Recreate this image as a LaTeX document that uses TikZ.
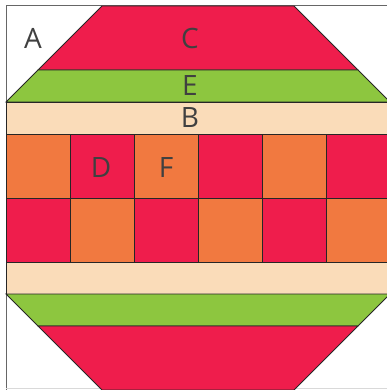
\documentclass[tikz,border=0pt]{standalone}
\usepackage{fontspec}
\setmainfont{Open Sans}
\definecolor{qred}{HTML}{EF1D4C}
\definecolor{qgreen}{HTML}{8DC63F}
\definecolor{qbeige}{HTML}{FADCB9}
\definecolor{qorange}{HTML}{F17940}
\definecolor{qtext}{HTML}{404040}
\begin{document}
\begin{tikzpicture}[x=1pt,y=-1pt,
  patch/.style={draw=black!85,line width=0.9pt,line join=miter},
  lbl/.style={text=qtext,font=\fontsize{28}{28}\selectfont,inner sep=0pt}]
\useasboundingbox (0,0) rectangle (387,390);
% frame
\draw[black!60,line width=1pt] (6,390) -- (6,6) -- (390,6);
\draw[black!15,line width=1pt] (6,388) -- (390,388);
% top
\filldraw[patch,fill=qred] (102,6) -- (294,6) -- (358,70) -- (38,70) -- cycle;
\filldraw[patch,fill=qgreen] (38,70) -- (358,70) -- (390,102) -- (6,102) -- cycle;
\filldraw[patch,fill=qbeige] (6,102) rectangle (390,134);
% checker rows
\foreach \i in {0,...,5}{
  \pgfmathsetmacro{\xa}{6+64*\i}
  \pgfmathsetmacro{\xb}{70+64*\i}
  \ifodd\i
    \filldraw[patch,fill=qred] (\xa,134) rectangle (\xb,198);
    \filldraw[patch,fill=qorange] (\xa,198) rectangle (\xb,262);
  \else
    \filldraw[patch,fill=qorange] (\xa,134) rectangle (\xb,198);
    \filldraw[patch,fill=qred] (\xa,198) rectangle (\xb,262);
  \fi
}
% bottom
\filldraw[patch,fill=qbeige] (6,262) rectangle (390,294);
\filldraw[patch,fill=qgreen] (6,294) -- (390,294) -- (358,326) -- (38,326) -- cycle;
\filldraw[patch,fill=qred] (38,326) -- (358,326) -- (294,390) -- (102,390) -- cycle;
% labels
\node[lbl] (A) at (33,38.5) {A};
\node[lbl] (C) at (190,38.5) {C};
\node[lbl] (E) at (190,86) {E};
\node[lbl] (B) at (190,118) {B};
\node[lbl] (D) at (101,168) {D};
\node[lbl] (F) at (166,168) {F};
\end{tikzpicture}
\end{document}
